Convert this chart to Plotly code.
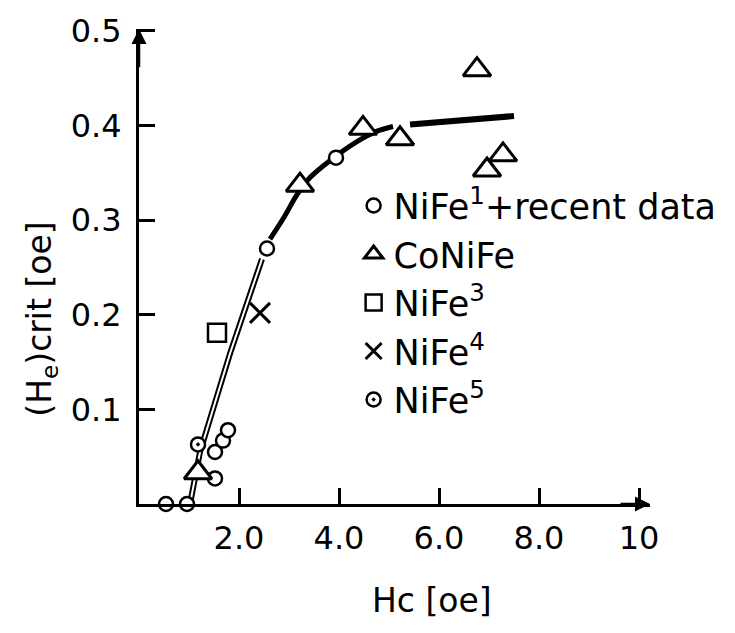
import plotly.graph_objects as go

# ---- data ----
nife1_x = [0.54, 0.96, 1.52, 1.52, 1.68, 1.78, 2.56, 3.94]
nife1_y = [0.0, 0.0, 0.027, 0.055, 0.067, 0.078, 0.27, 0.366]
conife_x = [1.18, 3.22, 4.48, 5.22, 6.76, 6.96, 7.28]
conife_y = [0.033, 0.337, 0.397, 0.386, 0.459, 0.353, 0.369]
nife3_x = [1.56]
nife3_y = [0.181]
nife4_x = [2.42]
nife4_y = [0.202]
nife5_x = [1.18]
nife5_y = [0.063]

fit_thin_x = [1.02, 1.12, 1.22, 1.52, 1.82, 2.14, 2.46]
fit_thin_y = [0.0, 0.027, 0.055, 0.107, 0.159, 0.209, 0.259]
fit_thick_x = [2.62, 2.9, 3.16, 3.42, 3.82, 4.36, 4.76, 5.08]
fit_thick_y = [0.28, 0.303, 0.327, 0.345, 0.363, 0.383, 0.394, 0.399]
fit_flat_x = [5.42, 7.5]
fit_flat_y = [0.401, 0.41]

x_tickvals = [2, 4, 6, 8, 10]
x_ticktext = ["2.0", "4.0", "6.0", "8.0", "10"]
y_tickvals = [0.1, 0.2, 0.3, 0.4, 0.5]
y_ticktext = ["0.1", "0.2", "0.3", "0.4", "0.5"]

FONT = "DejaVu Sans"
INK = "black"

fig = go.Figure()

# fit curve: hollow (double) lower part
fig.add_trace(go.Scatter(x=fit_thin_x, y=fit_thin_y, mode="lines",
                         line=dict(color=INK, width=6), showlegend=False, hoverinfo="skip"))
fig.add_trace(go.Scatter(x=fit_thin_x, y=fit_thin_y, mode="lines",
                         line=dict(color="white", width=2), showlegend=False, hoverinfo="skip"))
fig.add_trace(go.Scatter(x=fit_thick_x, y=fit_thick_y, mode="lines",
                         line=dict(color=INK, width=5, shape="spline"), showlegend=False, hoverinfo="skip"))
fig.add_trace(go.Scatter(x=fit_flat_x, y=fit_flat_y, mode="lines",
                         line=dict(color=INK, width=6), showlegend=False, hoverinfo="skip"))

def pts(x, y, name, symbol, size, lw, group, fill="white"):
    fig.add_trace(go.Scatter(
        x=x, y=y, mode="markers", name=name, legendgroup=group,
        marker=dict(symbol=symbol, size=size, color=fill,
                    line=dict(color=INK, width=lw)),
        cliponaxis=False))

pts(nife1_x, nife1_y, "NiFe<sup>1</sup>+recent data", "circle", 14, 2.5, "a")
pts(conife_x, conife_y, "CoNiFe", "triangle-up", 24, 3, "b")
pts(nife3_x, nife3_y, "NiFe<sup>3</sup>", "square", 18, 2.5, "c")
pts(nife4_x, nife4_y, "NiFe<sup>4</sup>", "x-thin-open", 20, 3, "d", fill=INK)
pts(nife5_x, nife5_y, "NiFe<sup>5</sup>", "circle-dot", 14, 2.5, "e")

# axis arrowheads
fig.add_annotation(x=10.22, y=0, ax=9.6, ay=0, xref="x", yref="y", axref="x", ayref="y",
                   showarrow=True, arrowhead=2, arrowsize=1.2, arrowwidth=2.5,
                   arrowcolor=INK, text="")
fig.add_annotation(x=0, y=0.502, ax=0, ay=0.46, xref="x", yref="y", axref="x", ayref="y",
                   showarrow=True, arrowhead=2, arrowsize=1.2, arrowwidth=2.5,
                   arrowcolor=INK, text="")

# axis titles
fig.add_annotation(text="(H<sub>e</sub>)crit [oe]", textangle=-90,
                   xref="paper", yref="paper", x=-0.19, y=0.39,
                   xanchor="center", yanchor="middle",
                   showarrow=False, font=dict(family=FONT, size=33, color=INK))
fig.add_annotation(text="Hc [oe]", xref="paper", yref="paper", x=0.573, y=-0.203,
                   xanchor="center", yanchor="middle",
                   showarrow=False, font=dict(family=FONT, size=33, color=INK))

fig.update_layout(
    width=735, height=633,
    margin=dict(l=139, r=85, t=18, b=129),
    paper_bgcolor="white", plot_bgcolor="white",
    font=dict(family=FONT, size=32, color=INK),
    showlegend=True,
    legend=dict(x=0.42, y=0.69, xanchor="left", yanchor="top",
                bgcolor="rgba(0,0,0,0)", font=dict(family=FONT, size=35, color=INK),
                tracegroupgap=0, itemsizing="trace"),
    xaxis=dict(range=[0, 10.22], showgrid=False, zeroline=False,
               showline=True, linecolor=INK, linewidth=3,
               ticks="inside", ticklen=16, tickwidth=3, tickcolor=INK,
               tickvals=x_tickvals, ticktext=x_ticktext, ticklabelstandoff=4,
               tickfont=dict(family=FONT, size=32, color=INK)),
    yaxis=dict(range=[0, 0.502], showgrid=False, zeroline=False,
               showline=True, linecolor=INK, linewidth=3,
               ticks="inside", ticklen=16, tickwidth=3, tickcolor=INK,
               tickvals=y_tickvals, ticktext=y_ticktext, ticklabelstandoff=8,
               tickfont=dict(family=FONT, size=32, color=INK)),
)

fig.write_html("out.html")
